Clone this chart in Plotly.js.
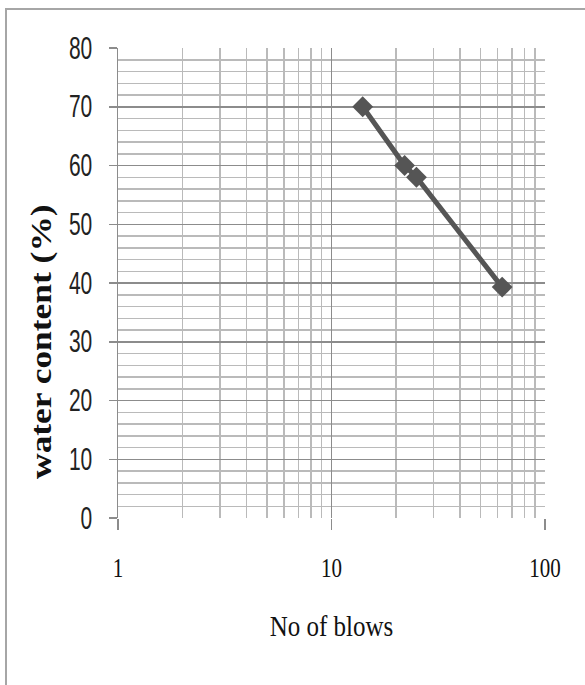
<!DOCTYPE html>
<html>
<head>
<meta charset="utf-8">
<script src="https://cdn.plot.ly/plotly-3.0.1.min.js"></script>
<style>
  html, body { margin: 0; padding: 0; background: #fff; }
  #wrap { position: relative; width: 585px; height: 685px; overflow: hidden; }
  #chart { position: absolute; left: 0; top: 0; width: 585px; height: 685px; }
  #frame { position: absolute; left: 5px; top: 8px; width: 700px; height: 800px;
           border-left: 2px solid #a6a6a6; border-top: 2px solid #a6a6a6; pointer-events: none; }
</style>
</head>
<body>
<div id="wrap">
  <div id="chart"></div>
  <div id="frame"></div>
</div>
<script>
// Data
const blows = [14, 22, 25, 63];          // No of blows (log scale)
const waterContent = [70, 60, 58, 39.3];  // water content (%)

const xMajorTicks = [1, 10, 100];
const xTickText = ['1', '10', '100'];
const xMinorTicks = [2, 3, 4, 5, 6, 7, 8, 9, 20, 30, 40, 50, 60, 70, 80, 90];
const yTicks = [0, 10, 20, 30, 40, 50, 60, 70, 80];

const trace = {
  x: blows,
  y: waterContent,
  type: 'scatter',
  mode: 'lines+markers',
  line: { color: '#555555', width: 5 },
  marker: { symbol: 'diamond', size: 16, color: '#555555' },
  showlegend: false,
  hoverinfo: 'x+y'
};

const layout = {
  width: 585,
  height: 685,
  margin: { l: 118, r: 40, t: 48, b: 167 },
  paper_bgcolor: '#ffffff',
  plot_bgcolor: '#ffffff',
  showlegend: false,
  xaxis: {
    type: 'log',
    range: [0, 2],
    tickmode: 'array',
    tickvals: xMajorTicks,
    ticktext: xTickText,
    ticks: 'outside',
    ticklen: 11,
    tickwidth: 1.5,
    tickcolor: '#8c8c8c',
    showgrid: true,
    gridcolor: '#8c8c8c',
    gridwidth: 1.5,
    zeroline: false,
    showline: false,
    automargin: false,
    ticklabelstandoff: 20,
    tickfont: { family: 'Liberation Serif, Times New Roman, serif', size: 21, color: '#111111' },
    minor: {
      tickmode: 'array',
      tickvals: xMinorTicks,
      showgrid: true,
      gridcolor: '#bababa',
      gridwidth: 1.5,
      ticks: ''
    },
    title: {
      text: 'No of blows',
      font: { family: 'Liberation Serif, Times New Roman, serif', size: 25, color: '#111111' },
      standoff: 38
    }
  },
  yaxis: {
    range: [0, 80],
    tickmode: 'array',
    tickvals: yTicks,
    ticks: 'outside',
    ticklen: 8,
    tickwidth: 1.5,
    tickcolor: '#8c8c8c',
    showgrid: true,
    gridcolor: '#8c8c8c',
    gridwidth: 1.5,
    zeroline: false,
    showline: true,
    linecolor: '#8c8c8c',
    linewidth: 1.5,
    automargin: false,
    ticklabelstandoff: 12,
    tickfont: { family: 'Liberation Sans, Arial, sans-serif', size: 21, color: '#222222' },
    minor: {
      dtick: 2,
      showgrid: true,
      gridcolor: '#bababa',
      gridwidth: 1.5,
      ticks: ''
    },
    title: { text: '' }
  },
  annotations: [{
    text: 'water content (%)',
    xref: 'paper', yref: 'paper',
    x: (41 - 118) / 427, y: (518 - 342) / 470,
    xanchor: 'center', yanchor: 'middle',
    textangle: -90,
    showarrow: false,
    font: { family: 'Liberation Serif, Times New Roman, serif', size: 30, color: '#111111', weight: 'bold' }
  }]
};

// The reference picture is stretched vertically; reproduce the tall, narrow look of its text.
function stretch(el, sx, sy, anchor) {
  if (!el) return;
  const r = el.getBoundingClientRect();
  const X = anchor === 'right' ? r.right : (r.left + r.right) / 2;
  const Y = (r.top + r.bottom) / 2;
  const svg = el.ownerSVGElement || el.closest('svg');
  const pt = svg.createSVGPoint();
  pt.x = X; pt.y = Y;
  const p = pt.matrixTransform(el.parentNode.getScreenCTM().inverse());
  const old = el.getAttribute('transform') || '';
  el.setAttribute('transform',
    'translate(' + p.x + ',' + p.y + ') scale(' + sx + ',' + sy + ') translate(' + (-p.x) + ',' + (-p.y) + ') ' + old);
}

Plotly.newPlot('chart', [trace], layout, { staticPlot: true, displayModeBar: false }).then(function (gd) {
  gd.querySelectorAll('.ytick text').forEach(function (t) { stretch(t, 1, 1.45, 'right'); });
  gd.querySelectorAll('.xtick text').forEach(function (t) { stretch(t, 1, 1.27, 'center'); });
  stretch(gd.querySelector('.g-xtitle text'), 1, 1.15, 'center');
  stretch(gd.querySelector('.annotation-text-g'), 1, 1.18, 'center');
});
</script>
</body>
</html>
